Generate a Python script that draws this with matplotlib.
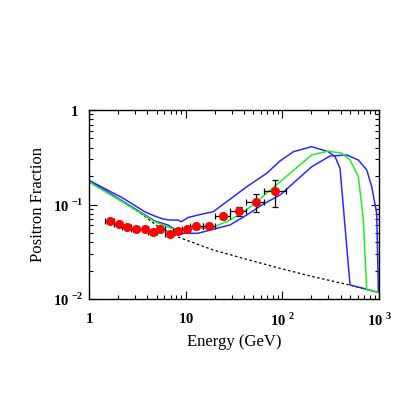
import numpy as np
from matplotlib import pyplot as plt
from matplotlib.ticker import LogLocator, FixedLocator, FixedFormatter, NullFormatter

plt.rcParams["font.family"] = ["Liberation Serif", "DejaVu Serif"]
plt.rcParams["mathtext.fontset"] = "custom"
plt.rcParams["mathtext.rm"] = "Liberation Serif"
plt.rcParams["mathtext.bf"] = "Liberation Serif:bold"

# measured positron fraction
energy = [1.65, 2.03, 2.47, 3.06, 3.77, 4.56, 5.46, 6.94, 8.33, 10.3,
          12.9, 17.6, 24.2, 35.3, 53.7, 83.4]
frac = [0.0674, 0.0617, 0.0582, 0.0550, 0.0550, 0.0508, 0.0550, 0.0487,
        0.0528, 0.0550, 0.0586, 0.0592, 0.0751, 0.0848, 0.106, 0.138]
frac_err = [0.002, 0.002, 0.002, 0.002, 0.002, 0.002, 0.002, 0.002,
            0.002, 0.002, 0.003, 0.003, 0.004, 0.009, 0.022, 0.045]
bin_lo = [1.47, 1.8, 2.2, 2.7, 3.3, 4.1, 5.0, 6.1, 7.4, 9.1, 11.2, 15,
          20, 28.5, 42, 65]
bin_hi = [1.8, 2.2, 2.7, 3.3, 4.1, 5.0, 6.1, 7.4, 9.1, 11.2, 15, 20,
          28.5, 42, 65, 110]

# secondary-only background (dotted)
bg_e = [1, 2.2, 3.6, 5, 8.7, 19.3, 42.8, 94.6, 209, 463, 1000]
bg_f = [0.174, 0.108, 0.078, 0.060, 0.0445, 0.0330, 0.0263, 0.0211,
        0.0172, 0.0143, 0.0117]

# model curves
green_e = [1, 2.21, 4.78, 7.1, 9.77, 19.3, 28.7, 42.8, 94.6, 201, 299,
           411, 501, 611, 687, 746, 1000]
green_f = [0.174, 0.107, 0.0658, 0.056, 0.0547, 0.0574, 0.0685, 0.0875,
           0.174, 0.334, 0.368, 0.348, 0.296, 0.197, 0.07, 0.0125, 0.0117]

blue_hi_e = [1, 2.21, 3.77, 4.78, 5.83, 6.84, 8.33, 9.01, 10.6, 13.4,
             19.3, 42.8, 68.9, 94.6, 130, 201, 299, 351, 395, 501, 1000]
blue_hi_f = [0.180, 0.118, 0.0839, 0.0755, 0.0703, 0.0685, 0.0685, 0.0658,
             0.0728, 0.0774, 0.0839, 0.154, 0.214, 0.289, 0.362, 0.409,
             0.362, 0.321, 0.241, 0.0141, 0.0117]

blue_lo_e = [1, 2.21, 4.78, 6.56, 9.01, 13.4, 19.3, 28.7, 42.8, 63.5,
             94.6, 201, 311, 463, 611, 746, 840, 946, 984]
blue_lo_f = [0.180, 0.109, 0.067, 0.0607, 0.0496, 0.0496, 0.0547, 0.0607,
             0.0774, 0.101, 0.126, 0.251, 0.326, 0.334, 0.296, 0.232,
             0.154, 0.0807, 0.0119]

fig = plt.figure(figsize=(3.99, 3.99), dpi=100)
ax = fig.add_axes([0.223, 0.2506, 0.727, 0.4737])

ax.plot(bg_e, bg_f, color="black", lw=0.9, ls=(0, (2, 2)))
ax.plot(blue_hi_e, blue_hi_f, color="#2a2aff", lw=1.1)
ax.plot(blue_lo_e, blue_lo_f, color="#2a2aff", lw=1.1)
ax.plot(green_e, green_f, color="#22ee22", lw=1.1)

e = np.array(energy)
xerr = [e - np.array(bin_lo), np.array(bin_hi) - e]
ax.errorbar(energy, frac, yerr=frac_err, xerr=xerr, fmt="o", color="red",
            ms=5.5, ecolor="black", elinewidth=0.9, capsize=2.5, capthick=0.9,
            zorder=5)

ax.set_xscale("log")
ax.set_yscale("log")
ax.set_xlim(1, 1000)
ax.set_ylim(0.01, 1)

ax.xaxis.set_major_locator(FixedLocator([1, 10, 100, 1000]))
ax.xaxis.set_major_formatter(FixedFormatter(
    [r"$\mathbf{1}$", r"$\mathbf{10}$", r"$\mathbf{10}^{\ \mathbf{2}}$",
     r"$\mathbf{10}^{\ \mathbf{3}}$"]))
ax.yaxis.set_major_locator(FixedLocator([0.01, 0.1, 1]))
ax.yaxis.set_major_formatter(FixedFormatter(
    [r"$\mathbf{10}^{\ \mathbf{-2}}$", r"$\mathbf{10}^{\ \mathbf{-1}}$",
     r"$\mathbf{1}$  "]))
for axis in (ax.xaxis, ax.yaxis):
    axis.set_minor_locator(LogLocator(base=10, subs=np.arange(2, 10)))
    axis.set_minor_formatter(NullFormatter())

ax.tick_params(which="both", direction="in", top=True, right=True,
               width=0.8, labelsize=10.5)
ax.tick_params(which="major", length=5.5)
ax.tick_params(which="minor", length=3)
ax.tick_params(axis="x", pad=9)
ax.tick_params(axis="y", pad=4)
for sp in ax.spines.values():
    sp.set_linewidth(1.0)

ax.set_xlabel("Energy (GeV)", fontsize=12, labelpad=4)
ax.set_ylabel("Positron Fraction", fontsize=12, labelpad=5)

fig.savefig("out.png", dpi=100)
